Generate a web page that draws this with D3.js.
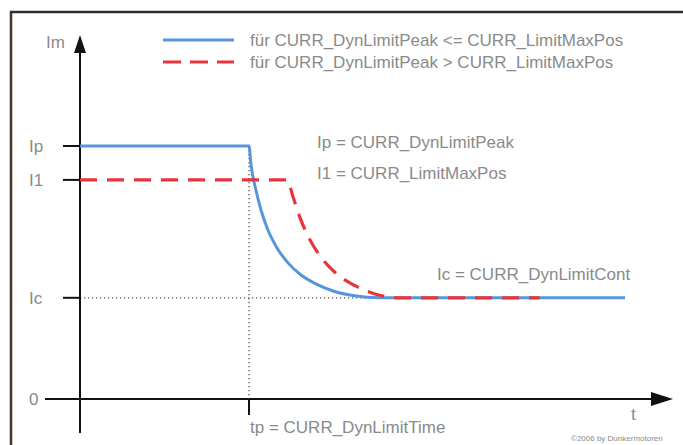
<!DOCTYPE html>
<html>
<head>
<meta charset="utf-8">
<script src="https://cdn.jsdelivr.net/npm/d3@7"></script>
<style>
  body { margin: 0; background: #fff; }
  text { font-family: "Liberation Sans", Arial, sans-serif; fill: #8a8a8a; }
</style>
</head>
<body>
<div id="chart"></div>
<script>
// current levels (relative to Ip) and time (tp = 10)
const levelLabels = ["0", "Ic", "I1", "Ip"];
const levelValues = [0, 0.4, 0.866, 1];
const tpValue = 10;

// blue: CURR_DynLimitPeak <= CURR_LimitMaxPos
const blueT = [0, 10, 10.12, 10.41, 10.71, 11.12, 11.66, 12.31, 13.08, 13.96, 14.97, 16.15, 17.75, 32.25];
const blueI = [1, 1, 0.925, 0.826, 0.747, 0.668, 0.597, 0.538, 0.490, 0.455, 0.427, 0.409, 0.40, 0.40];

// red: CURR_DynLimitPeak > CURR_LimitMaxPos
const redT = [0, 12.25, 12.6, 13.0, 13.6, 14.3, 15.2, 16.3, 17.45, 18.9, 27.2];
const redI = [0.866, 0.866, 0.80, 0.72, 0.63, 0.557, 0.494, 0.447, 0.415, 0.40, 0.40];

const legendTexts = [
    "für CURR_DynLimitPeak <= CURR_LimitMaxPos",
    "für CURR_DynLimitPeak > CURR_LimitMaxPos"
];
const notes = [
    "Ip = CURR_DynLimitPeak",
    "I1 = CURR_LimitMaxPos",
    "Ic = CURR_DynLimitCont",
    "tp = CURR_DynLimitTime"
];

const width = 683;
const height = 445;
const blue = "#5596dc";
const red = "#e8343c";
const fs = 17;

const svg = d3.select("#chart").append("svg")
    .attr("width", width)
    .attr("height", height);

const x = d3.scaleLinear().domain([0, 35]).range([80, 671.5]);
const y = d3.scaleLinear().domain([0, 1]).range([399, 146]);

// frame (runs off the right and bottom)
svg.append("line").attr("x1", 11).attr("x2", 11).attr("y1", 11).attr("y2", height + 5)
    .attr("stroke", "#4a3626").attr("stroke-width", 2.5);
svg.append("line").attr("x1", 10).attr("x2", width + 5).attr("y1", 12).attr("y2", 12)
    .attr("stroke", "#2e2e2e").attr("stroke-width", 2.5);

// dotted guides
svg.append("line")
    .attr("x1", x(0)).attr("x2", x(17.75))
    .attr("y1", y(levelValues[1])).attr("y2", y(levelValues[1]))
    .attr("stroke", "#555").attr("stroke-width", 1.3).attr("stroke-dasharray", "1.3,2.7");
svg.append("line")
    .attr("x1", x(tpValue)).attr("x2", x(tpValue))
    .attr("y1", y(1)).attr("y2", y(0))
    .attr("stroke", "#555").attr("stroke-width", 1.3).attr("stroke-dasharray", "1.3,2.7");

// axes
const axis = svg.append("g").attr("stroke", "#111").attr("stroke-width", 2);
axis.append("line").attr("x1", x(0)).attr("x2", x(0)).attr("y1", 433).attr("y2", 50);
axis.append("line").attr("x1", 45).attr("x2", 656).attr("y1", y(0)).attr("y2", y(0));
axis.append("line").attr("x1", x(tpValue)).attr("x2", x(tpValue)).attr("y1", y(0)).attr("y2", 415);
levelValues.slice(1).forEach(v => {
    axis.append("line").attr("x1", 63).attr("x2", x(0)).attr("y1", y(v)).attr("y2", y(v));
});
svg.append("path")
    .attr("d", `M${x(0)},35 L${x(0) + 6},53 L${x(0) - 6},53 Z`)
    .attr("fill", "#111");
svg.append("path")
    .attr("d", `M673,${y(0)} L651,${y(0) - 7} L651,${y(0) + 7} Z`)
    .attr("fill", "#111");

// curves
const line = d3.line()
    .x(d => x(d[0]))
    .y(d => y(d[1]))
    .curve(d3.curveMonotoneX);

svg.append("path")
    .datum(blueT.map((t, i) => [t, blueI[i]]))
    .attr("d", line)
    .attr("fill", "none")
    .attr("stroke", blue)
    .attr("stroke-width", 3);

svg.append("path")
    .datum(redT.map((t, i) => [t, redI[i]]))
    .attr("d", line)
    .attr("fill", "none")
    .attr("stroke", red)
    .attr("stroke-width", 3.2)
    .attr("stroke-dasharray", "17,10");

// level labels
levelValues.forEach((v, i) => {
    svg.append("text")
        .attr("x", 29).attr("y", y(v) + 6)
        .attr("font-size", fs)
        .text(levelLabels[i]);
});
svg.append("text").attr("x", 46).attr("y", 48).attr("font-size", fs).text("Im");
svg.append("text").attr("x", 631).attr("y", 420).attr("font-size", fs).text("t");

// legend
[blue, red].forEach((c, i) => {
    svg.append("line")
        .attr("x1", 163).attr("x2", 234)
        .attr("y1", 40 + i * 22).attr("y2", 40 + i * 22)
        .attr("stroke", c).attr("stroke-width", 3)
        .attr("stroke-dasharray", i ? "18,9" : null);
    svg.append("text")
        .attr("x", 250).attr("y", 46 + i * 22)
        .attr("font-size", fs)
        .text(legendTexts[i]);
});

// annotations
svg.append("text").attr("x", 317).attr("y", 148).attr("font-size", fs).text(notes[0]);
svg.append("text").attr("x", 317).attr("y", 179).attr("font-size", fs).text(notes[1]);
svg.append("text").attr("x", 437).attr("y", 280).attr("font-size", fs).text(notes[2]);
svg.append("text").attr("x", 250).attr("y", 433).attr("font-size", fs).text(notes[3]);

svg.append("text")
    .attr("x", 571).attr("y", 441)
    .attr("font-size", 8)
    .text("©2006 by Dunkermotoren");
</script>
</body>
</html>
